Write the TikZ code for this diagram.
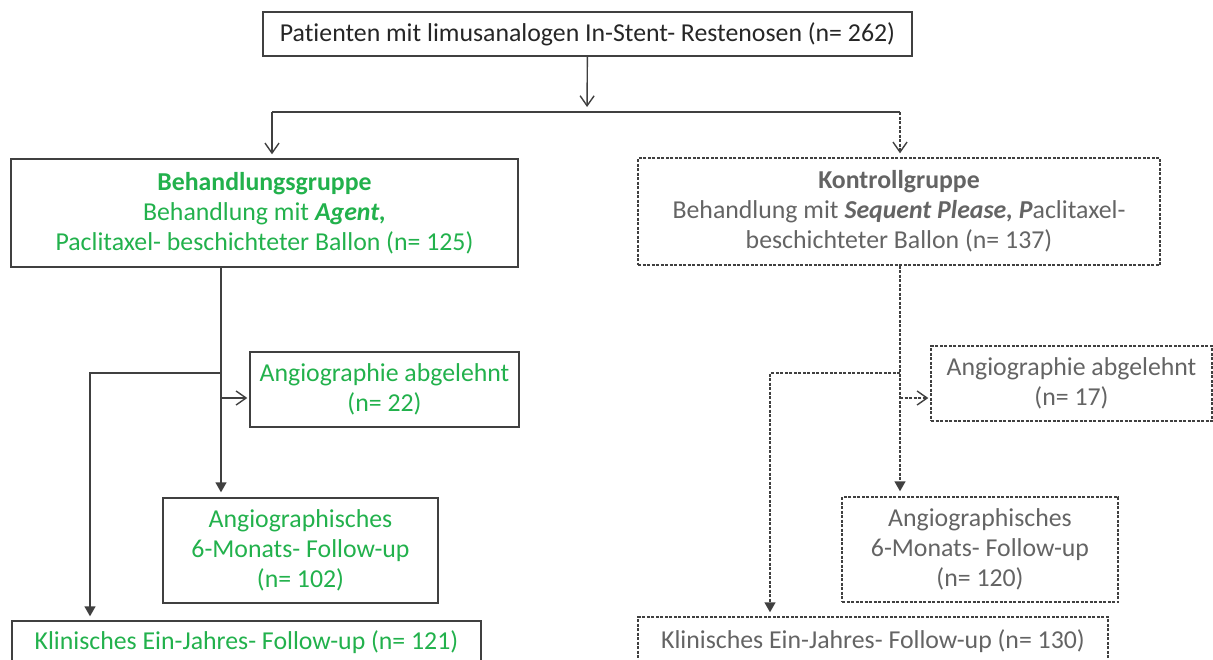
\documentclass[tikz,border=0pt]{standalone}
\usepackage{fontspec}
\setmainfont{Carlito}[Ligatures=NoCommon]
\usetikzlibrary{arrows.meta}
\definecolor{boxline}{RGB}{64,64,64}
\definecolor{grptext}{RGB}{34,177,76}
\definecolor{ctltext}{RGB}{100,100,100}

\begin{document}
\begin{tikzpicture}[x=0.5pt,y=-0.5pt,
    box/.style={draw=boxline,line width=0.7pt,align=center,inner sep=0pt,
      font=\fontsize{12.9}{15}\selectfont},
    treat/.style={box,text=grptext},
    ctrl/.style={box,text=ctltext,dash pattern=on 1.5pt off 0.75pt},
    link/.style={boxline,line width=0.7pt},
    dlink/.style={link,dash pattern=on 1.5pt off 0.75pt},
    barb/.style={-{Straight Barb[length=5pt,width=7pt]}},
    tip/.style={-{Triangle[length=5pt,width=5.5pt]}}]
  \useasboundingbox (0,0) rectangle (1213,659);
  \clip (0,0) rectangle (1213,659);

  \node[box,text=black!85,minimum width=324.5pt,minimum height=22pt] (pat) at (587.5,34)
    {Patienten mit limusanalogen In-Stent- Restenosen (n= 262)};

  % Behandlungsgruppe
  \node[treat,minimum width=253.5pt,minimum height=54pt] (grpA) at (264.5,213)
    {\textbf{Behandlungsgruppe}\\Behandlung mit \textbf{\textit{Agent,}}\\Paclitaxel- beschichteter Ballon (n= 125)};
  \node[treat,minimum width=134.5pt,minimum height=37.5pt] (refA) at (384.5,389.5)
    {Angiographie abgelehnt\\(n= 22)};
  \node[treat,minimum width=137.5pt,minimum height=52.5pt] (angA) at (300.5,550.5)
    {Angiographisches\\6-Monats- Follow-up\\(n= 102)};
  \node[treat,minimum width=234.5pt,minimum height=21pt] (cliA) at (246.5,642)
    {Klinisches Ein-Jahres- Follow-up (n= 121)};

  % Kontrollgruppe
  \node[ctrl,minimum width=261pt,minimum height=53.5pt] (grpB) at (899,211.5)
    {\textbf{Kontrollgruppe}\\Behandlung mit \textbf{\textit{Sequent Please, P}}aclitaxel-\\beschichteter Ballon (n= 137)};
  \node[ctrl,minimum width=140.5pt,minimum height=37.5pt] (refB) at (1071.5,383.5)
    {Angiographie abgelehnt\\(n= 17)};
  \node[ctrl,minimum width=138pt,minimum height=52.5pt] (angB) at (980,549.5)
    {Angiographisches\\6-Monats- Follow-up\\(n= 120)};
  \node[ctrl,minimum width=235pt,minimum height=24pt] (cliB) at (873,641)
    {Klinisches Ein-Jahres- Follow-up (n= 130)};

  \coordinate (split) at (587,112);
  \coordinate (splitA) at (272,112);
  \coordinate (splitB) at (900,112);
  \coordinate (trunkA) at (221,373);
  \coordinate (sideA) at (221,398);
  \coordinate (bendA) at (90,373);
  \coordinate (trunkB) at (900,373);
  \coordinate (sideB) at (900,398);
  \coordinate (bendB) at (770,373);

  \draw[link,barb,shorten >=2.5pt] (pat) -- (split);
  \draw[link] (splitA) -- (splitB);
  \draw[link,barb,shorten >=2pt] (splitA) -- (splitA |- grpA.north);
  \draw[dlink,barb,shorten >=2pt] (splitB) -- (splitB |- grpB.north);

  \draw[link,tip,shorten >=2.5pt] (grpA.south -| trunkA) -- (trunkA |- angA.north);
  \draw[link,tip,shorten >=2pt] (trunkA) -- (bendA) -- (bendA |- cliA.north);
  \draw[link,barb,shorten >=1pt] (sideA) -- (sideA -| refA.west);

  \draw[dlink,tip,shorten >=2.5pt] (grpB.south -| trunkB) -- (trunkB |- angB.north);
  \draw[dlink,tip,shorten >=2pt] (trunkB) -- (bendB) -- (bendB |- cliB.north);
  \draw[dlink,barb,shorten >=1pt] (sideB) -- (sideB -| refB.west);
\end{tikzpicture}
\end{document}
